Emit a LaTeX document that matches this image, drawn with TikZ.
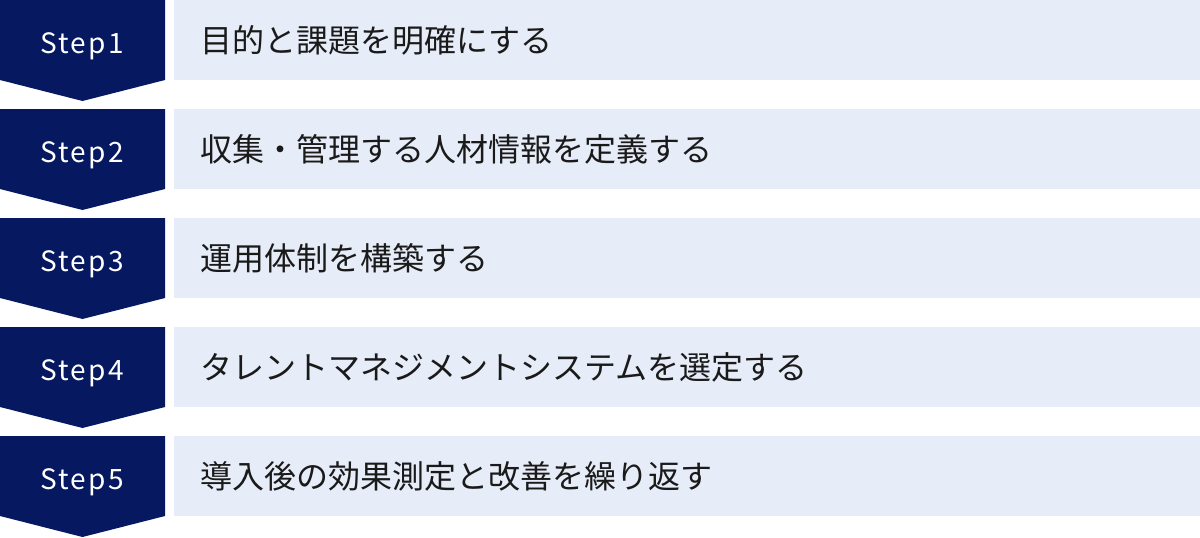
\documentclass[tikz,border=0pt]{standalone}
\usepackage{fontspec}
\newfontfamily\jpfont{Noto Sans CJK JP}
\newfontfamily\labfont[LetterSpace=8]{Noto Sans CJK JP}
\usepackage{xcolor}
\definecolor{navy}{RGB}{5,24,96}
\definecolor{pale}{RGB}{230,236,248}
\definecolor{ink}{RGB}{26,26,26}

\begin{document}
\begin{tikzpicture}[x=1pt,y=-1pt,
	a/.style={fill=navy},
	b/.style={fill=pale},
	lab/.style={anchor=base,inner sep=0pt,text=white,font=\labfont\fontsize{28}{28}\selectfont},
	txt/.style={anchor=west,inner sep=0pt,text=ink,font=\jpfont\fontsize{32}{32}\selectfont}]
				\useasboundingbox (0,0) rectangle (1200,538);
				% Step1
				\fill[a] (0,0) -- (165,0) -- (165,80) -- (82.5,101) -- (0,80) -- cycle;
				\fill[b] (174,0) rectangle (1200,80);
				\node[lab] (s1) at (82,53) {Step1};
				\node[txt] (t1) at (200,40) {目的と課題を明確にする};
				% Step2
				\fill[a] (0,109) -- (165,109) -- (165,189) -- (82.5,210) -- (0,189) -- cycle;
				\fill[b] (174,109) rectangle (1200,189);
				\node[lab] (s2) at (82,162) {Step2};
				\node[txt] (t2) at (200,149) {収集・管理する人材情報を定義する};
				% Step3
				\fill[a] (0,218) -- (165,218) -- (165,298) -- (82.5,319) -- (0,298) -- cycle;
				\fill[b] (174,218) rectangle (1200,298);
				\node[lab] (s3) at (82,271) {Step3};
				\node[txt] (t3) at (200,258) {運用体制を構築する};
				% Step4
				\fill[a] (0,327) -- (165,327) -- (165,407) -- (82.5,428) -- (0,407) -- cycle;
				\fill[b] (174,327) rectangle (1200,407);
				\node[lab] (s4) at (82,380) {Step4};
				\node[txt] (t4) at (200,367) {タレントマネジメントシステムを選定する};
				% Step5
				\fill[a] (0,436) -- (165,436) -- (165,516) -- (82.5,537) -- (0,516) -- cycle;
				\fill[b] (174,436) rectangle (1200,516);
				\node[lab] (s5) at (82,489) {Step5};
				\node[txt] (t5) at (200,476) {導入後の効果測定と改善を繰り返す};
			\end{tikzpicture}
\end{document}
